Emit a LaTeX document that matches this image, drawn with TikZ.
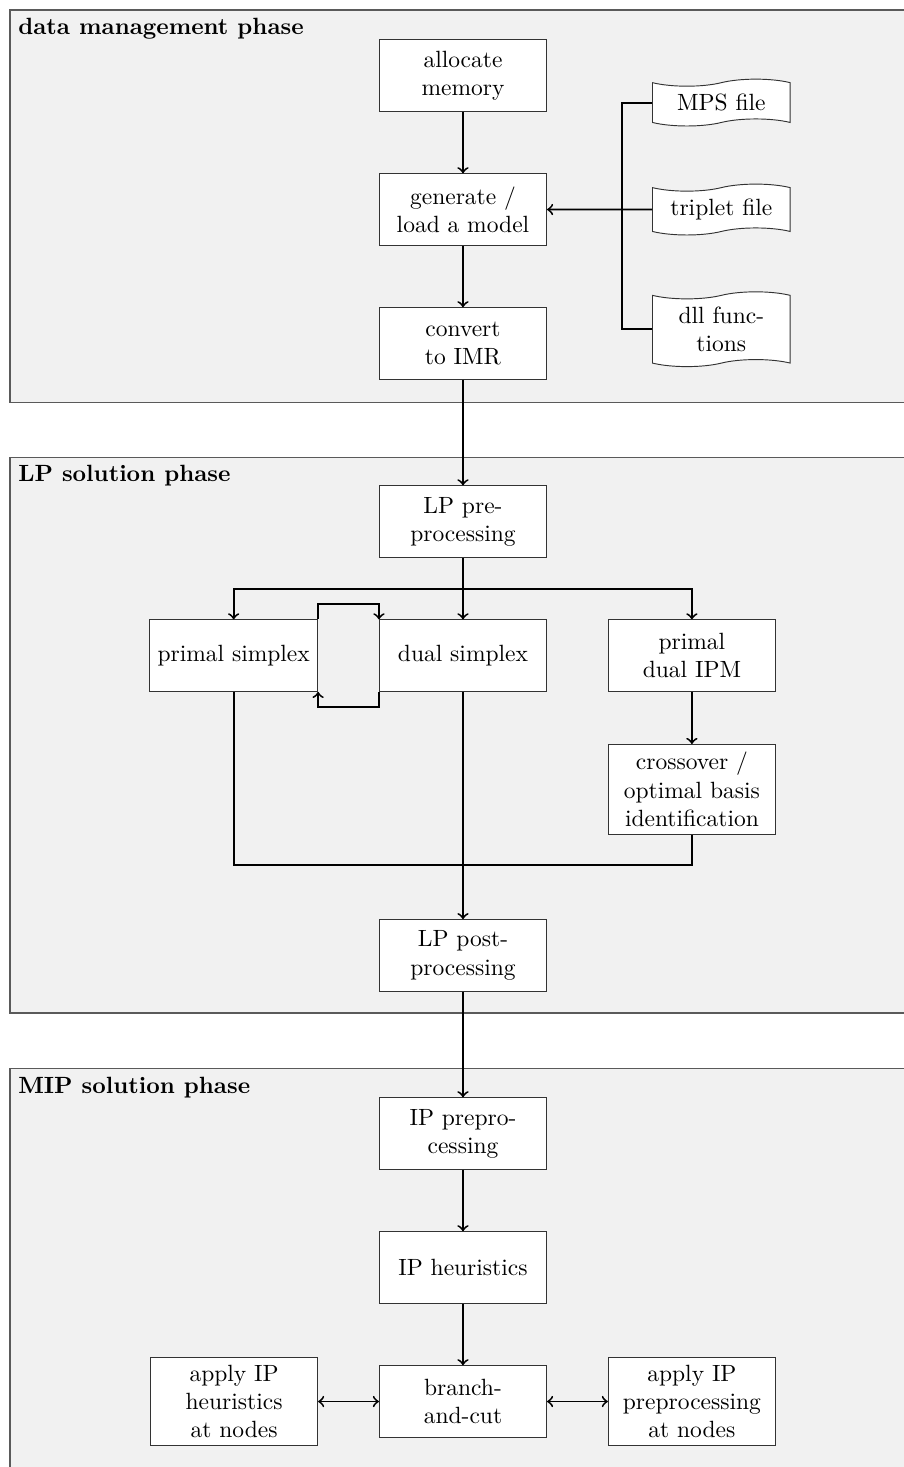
\documentclass[tikz,border=0pt]{standalone}
\usetikzlibrary{shapes,arrows,positioning}
\definecolor{panelfill}{RGB}{241,241,241}
\definecolor{paneledge}{RGB}{90,90,90}
\tikzset{
    block/.style={rectangle, draw=black!80, fill=white, align=center,
                  minimum width=2.5cm, minimum height=1.07cm},
    datafile/.style={tape, draw=black!80, fill=white, align=center,
                  minimum width=2.06cm, tape bend height=3pt},
    phase/.style={rectangle, draw=paneledge, fill=panelfill, line width=0.6pt},
    phasetitle/.style={anchor=north west, font=\bfseries},
    line/.style={draw, thick, ->},
    biline/.style={draw, thick, <->},
}

\begin{document}
\begin{tikzpicture}[node distance=0.92cm and 0.91cm]
        \clip (0,0) rectangle (13.521,-21.942);

        % Phase panels
        \draw [phase] (0.15,-0.15)  rectangle (13.8,-6.02);
        \draw [phase] (0.15,-6.84)  rectangle (13.8,-15.15);
        \draw [phase] (0.15,-15.98) rectangle (13.8,-22.3);
        \node [phasetitle] (dmtitle)  at (0.15,-0.15)  {data management phase};
        \node [phasetitle] (lptitle)  at (0.15,-6.84)  {LP solution phase};
        \node [phasetitle] (miptitle) at (0.15,-15.98) {MIP solution phase};

        % Data management phase
        \node [block] (alloc) at (6.925,-1.13) {allocate\\memory};
        \node [block, below=of alloc]        (gen)  {generate /\\load a model};
        \node [block, below=of gen]          (conv) {convert\\to IMR};
        \node [datafile, right=1.57cm of gen]          (trip) {triplet file};
        \node [datafile, on grid, above=1.6cm of trip]  (mps)  {MPS file};
        \node [datafile, on grid, below=1.79cm of trip] (dll)  {dll func-\\tions};

        % LP solution phase
        \node [block, below=1.58cm of conv]  (lppre)  {LP pre-\\processing};
        \node [block, below=of lppre]        (dual)   {dual simplex};
        \node [block, left=of dual]          (primal) {primal simplex};
        \node [block, right=of dual]         (ipm)    {primal\\dual IPM};
        \node [block, below=0.78cm of ipm]   (cross)  {crossover /\\optimal basis\\identification};
        \node [block, below=3.4cm of dual]   (lppost) {LP post-\\processing};

        % MIP solution phase
        \node [block, below=1.58cm of lppost] (ippre)     {IP prepro-\\cessing};
        \node [block, below=of ippre]         (ipheur)    {IP heuristics};
        \node [block, below=of ipheur]        (bnc)       {branch-\\and-cut};
        \node [block, left=of bnc]            (heurnodes) {apply IP\\heuristics\\at nodes};
        \node [block, right=of bnc]           (prepnodes) {apply IP\\preprocessing\\at nodes};

        % Arrows (data management)
        \draw [line]  (alloc) -- (gen);
        \draw [line]  (gen)   -- (conv);
        \draw [line]  (trip)  -- (gen);
        \draw [thick] (mps.west) -- ++(-0.45,0) |- (dll.west);
        \draw [line]  (conv)  -- (lppre);

        % Arrows (LP)
        \draw [thick] (lppre.south) -- ++(0,-0.47) coordinate (fork);
        \draw [line]  (fork) -| (primal);
        \draw [line]  (fork) -- (dual);
        \draw [line]  (fork) -| (ipm);
        \draw [line]  (primal.north east) -- ++(0,0.23) -| (dual.north west);
        \draw [line]  (dual.south west) -- ++(0,-0.23) -| (primal.south east);
        \draw [line]  (ipm) -- (cross);
        \coordinate [above=0.81cm of lppost] (merge);
        \draw [thick] (primal) |- (merge) -| (cross);
        \draw [line]  (dual) -- (lppost);
        \draw [line]  (lppost) -- (ippre);

        % Arrows (MIP)
        \draw [line]   (ippre)     -- (ipheur);
        \draw [line]   (ipheur)    -- (bnc);
        \draw [biline] (heurnodes) -- (bnc);
        \draw [biline] (bnc)       -- (prepnodes);
    \end{tikzpicture}
\end{document}
